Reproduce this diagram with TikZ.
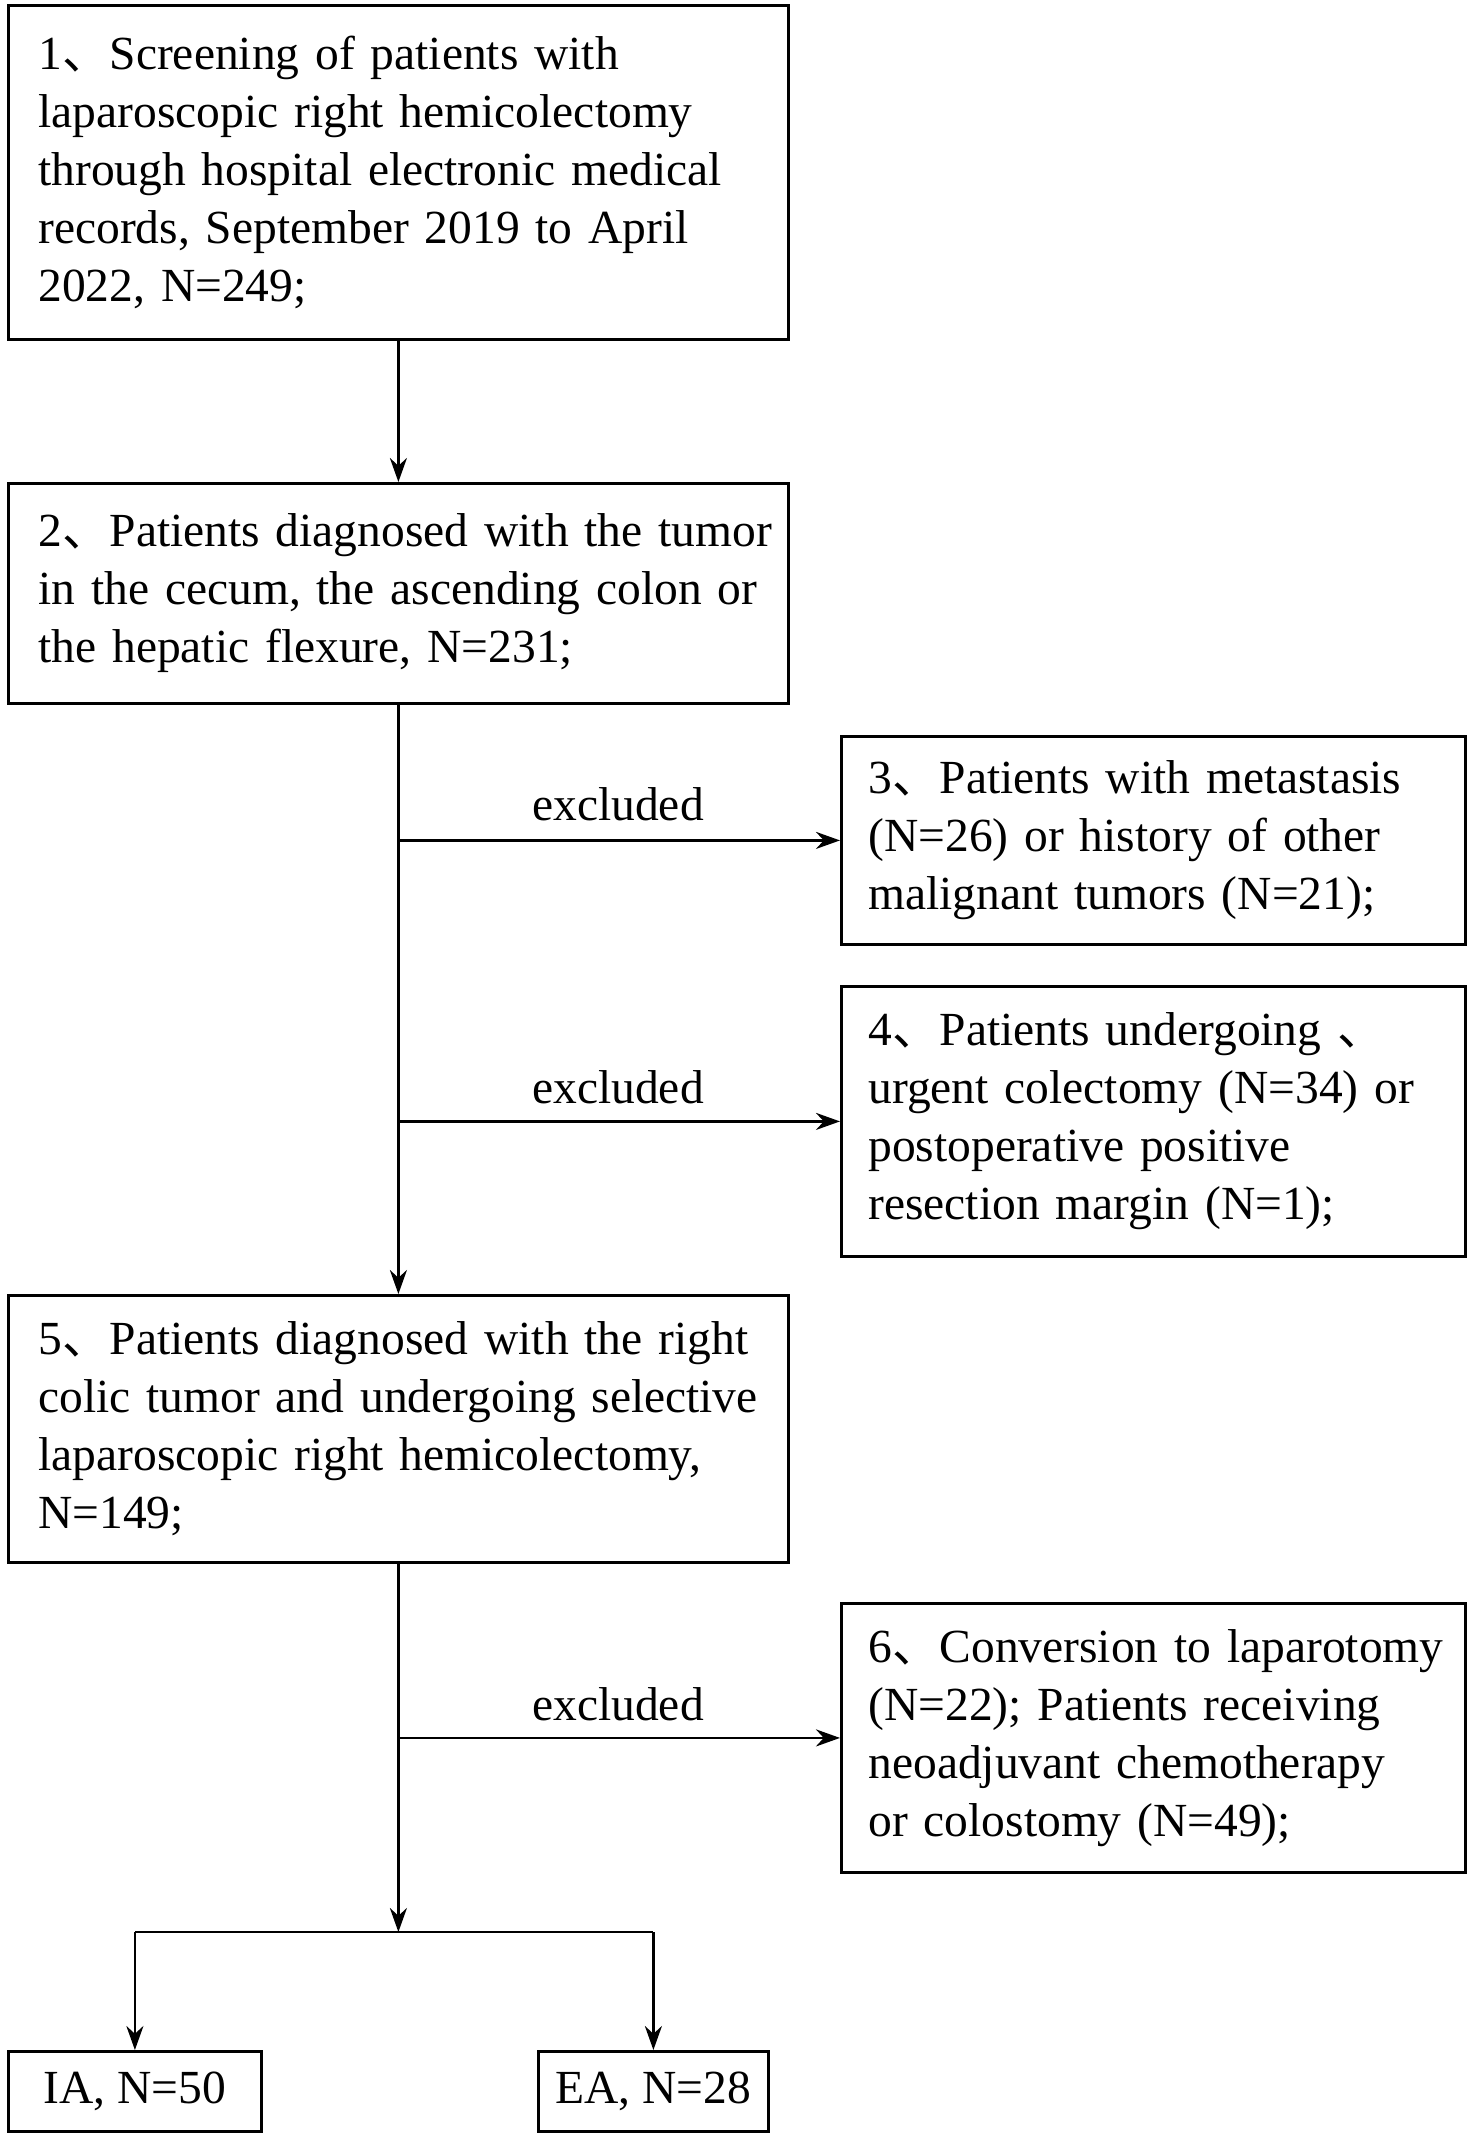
\documentclass[tikz,border=0pt]{standalone}
\usepackage{fontspec}
\setmainfont{Liberation Serif}
\newfontfamily\cjk{Noto Sans CJK SC}
\newcommand\dun{{\cjk 、}}
\newcommand\tline[1]{\mbox{#1}}
\usetikzlibrary{arrows.meta}
\begin{document}
\begin{tikzpicture}[x=1pt,y=-1pt,
  box/.style={draw, line width=2.8pt, rectangle, inner xsep=30pt, inner ysep=0pt,
    align=left, anchor=north west, font=\fontsize{47.5}{58}\selectfont},
  smallbox/.style={draw, line width=2.8pt, rectangle, inner sep=0pt,
    align=center, anchor=north west, font=\fontsize{47.5}{58}\selectfont},
  lbl/.style={font=\fontsize{47.5}{58}\selectfont, inner sep=0pt},
  arr/.style={line width=2.8pt, -{Stealth[length=24pt,width=17pt]}},
  plain/.style={line width=2.8pt}]
\useasboundingbox (0,0) rectangle (1476,2134);
\node[box, text width=720pt, minimum width=780pt, minimum height=334pt] (b1) at (7,4)
  {\tline{1\dun Screening of patients with}\\\tline{laparoscopic right hemicolectomy}\\\tline{through hospital electronic medical}\\\tline{records, September 2019 to April}\\\tline{2022, N=249;}};
\node[box, text width=720pt, minimum width=780pt, minimum height=220pt] (b2) at (7,482)
  {\tline{2\dun Patients diagnosed with the tumor}\\\tline{in the cecum, the ascending colon or}\\\tline{the hepatic flexure, N=231;}};
\node[box, inner xsep=27pt, text width=570pt, minimum width=624pt, minimum height=208pt] (b3) at (840,735)
  {\tline{3\dun Patients with metastasis}\\\tline{(N=26) or history of other}\\\tline{malignant tumors (N=21);}};
\node[box, inner xsep=27pt, text width=570pt, minimum width=624pt, minimum height=270pt] (b4) at (840,985)
  {\tline{4\dun Patients undergoing \dun}\\\tline{urgent colectomy (N=34) or}\\\tline{postoperative positive}\\\tline{resection margin (N=1);}};
\node[box, text width=720pt, minimum width=780pt, minimum height=267pt] (b5) at (7,1294)
  {\tline{5\dun Patients diagnosed with the right}\\\tline{colic tumor and undergoing selective}\\\tline{laparoscopic right hemicolectomy,}\\\tline{N=149;}};
\node[box, inner xsep=27pt, text width=570pt, minimum width=624pt, minimum height=269pt] (b6) at (840,1602)
  {\tline{6\dun Conversion to laparotomy}\\\tline{(N=22); Patients receiving}\\\tline{neoadjuvant chemotherapy}\\\tline{or colostomy (N=49);}};
\node[smallbox, minimum width=253pt, minimum height=80pt] (ia) at (7,2050) {IA, N=50};
\node[smallbox, minimum width=230pt, minimum height=80pt] (ea) at (537,2050) {EA, N=28};
\node[lbl] (e1) at (618,804) {excluded};
\node[lbl] (e2) at (618,1087) {excluded};
\node[lbl] (e3) at (618,1704) {excluded};
\coordinate (j) at (b5.south |- 0,1932);
\draw[arr] (b1.south) -- (b2.north);
\draw[arr] (b2.south) -- (b5.north);
\draw[arr] (b2.south |- b3.west) -- (b3.west);
\draw[arr] (b2.south |- b4.west) -- (b4.west);
\draw[arr] (b5.south |- b6.west) -- (b6.west);
\draw[arr] (b5.south) -- (j);
\draw[plain] (ia.north |- j) -- (ea.north |- j);
\draw[arr] (ia.north |- j) -- (ia.north);
\draw[arr] (ea.north |- j) -- (ea.north);
\end{tikzpicture}
\end{document}
